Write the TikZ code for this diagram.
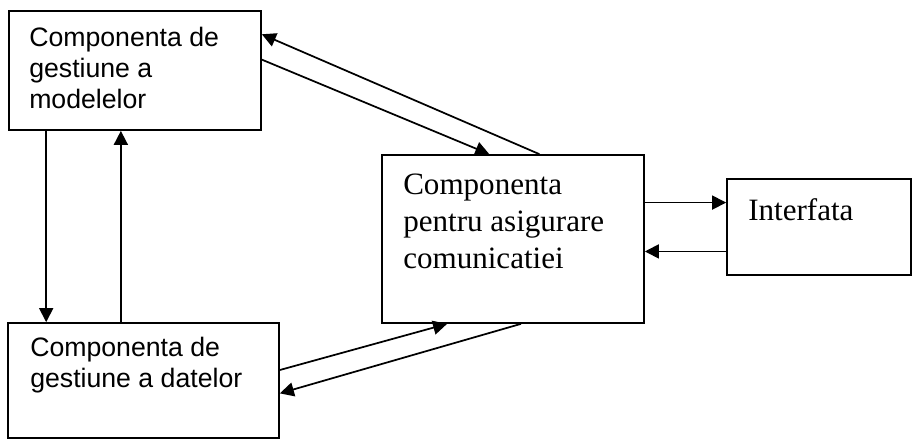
\documentclass[tikz,border=0pt]{standalone}
\usepackage{fontspec}
\setmainfont{Liberation Serif}
\newfontfamily\arialfont{Liberation Sans}
\usetikzlibrary{arrows.meta,calc,fit}

\tikzset{
  comp/.style={draw, rectangle, line width=1.3pt, inner sep=0pt},
  sanstext/.style={anchor=base west, inner sep=0pt, align=left,
    font=\arialfont\fontsize{20}{23}\selectfont},
  seriftext/.style={anchor=base west, inner sep=0pt, align=left,
    font=\fontsize{23.3}{27.4}\selectfont},
  flow/.style={->, line width=1.3pt},
}

\begin{document}
\begin{tikzpicture}[x=0.75pt, y=-0.75pt, >={Triangle[length=10.5pt,width=10.5pt]}]
\useasboundingbox (0,0) rectangle (912,440);
% the four components
\node[comp, fit={(9,11) (261,130)}] (mod) {};
\node[comp, fit={(8,323) (279,438)}] (dat) {};
\node[comp, fit={(382,155) (644,323)}] (com) {};
\node[comp, fit={(727,179) (911,275)}] (intf) {};
% text sits on the baseline of its last line
\node[sanstext] (modtext) at (29,108) {Componenta de\\gestiune a\\modelelor};
\node[sanstext] (dattext) at (30,387) {Componenta de\\gestiune a datelor};
\node[seriftext] (comtext) at (403,268) {Componenta\\pentru asigurare\\comunicatiei};
\node[seriftext] (intftext) at (748,220) {Interfata};

% models <-> data
\coordinate (md) at ($(mod.south west)!0.15!(mod.south east)$);
\coordinate (dm) at ($(dat.north west)!0.417!(dat.north east)$);
\draw[flow] (md) -- (md |- dat.north);
\draw[flow] (dm) -- (dm |- mod.south);
% models <-> communication
\draw[flow] ($(mod.north east)!0.41!(mod.south east)$) -- ($(com.north west)!0.41!(com.north east)$);
\draw[flow] ($(com.north west)!0.60!(com.north east)$) -- ($(mod.north east)!0.20!(mod.south east)$);
% data <-> communication
\draw[flow] ($(dat.north east)!0.41!(dat.south east)$) -- ($(com.south west)!0.25!(com.south east)$);
\draw[flow] ($(com.south west)!0.53!(com.south east)$) -- ($(dat.north east)!0.61!(dat.south east)$);
% communication <-> interface
\coordinate (ci) at ($(intf.north west)!0.25!(intf.south west)$);
\coordinate (ic) at ($(intf.north west)!0.75!(intf.south west)$);
\draw[flow] (ci -| com.east) -- (ci);
\draw[flow] (ic) -- (ic -| com.east);
\end{tikzpicture}
\end{document}
